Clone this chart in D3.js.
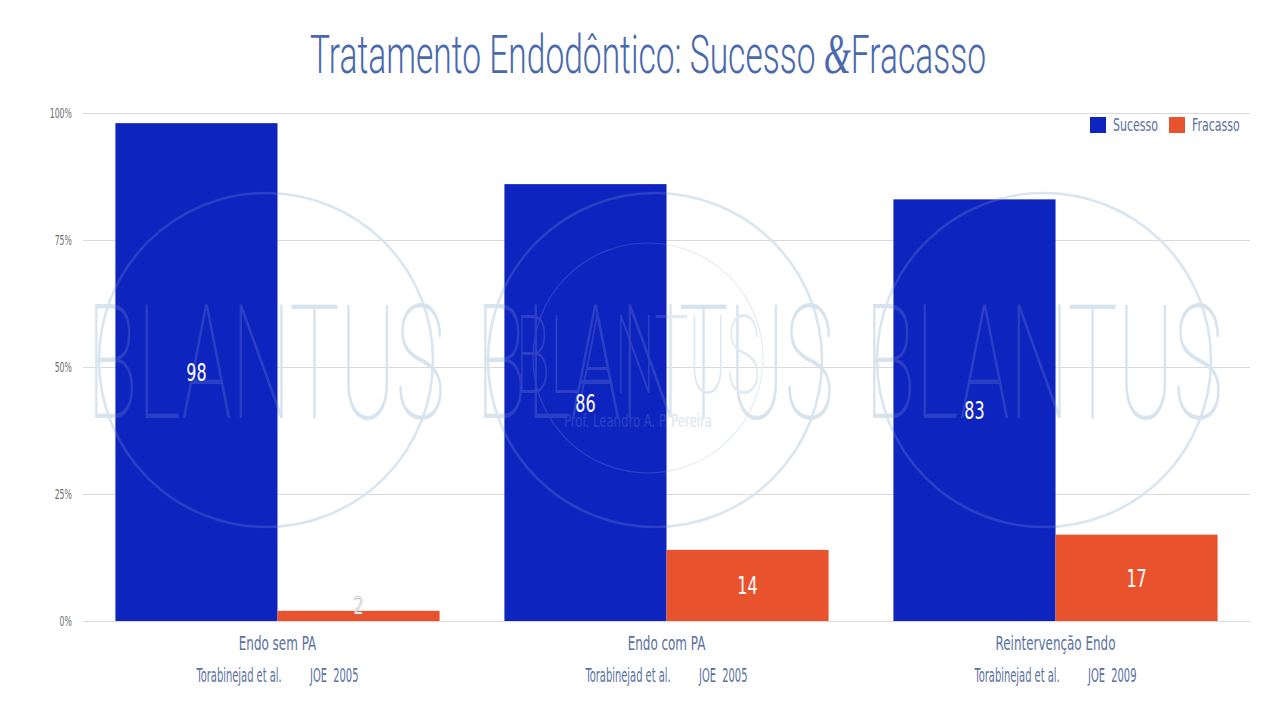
<!DOCTYPE html>
<html>
<head>
<meta charset="utf-8">
<script src="https://cdn.jsdelivr.net/npm/d3@7"></script>
<style>
  html, body { margin: 0; padding: 0; background: #fff; }
  svg { display: block; }
  text { font-family: "DejaVu Sans Condensed", "DejaVu Sans", sans-serif; font-stretch: condensed; }
</style>
</head>
<body>
<svg id="chart" width="1280" height="720"></svg>
<script>
const categories = ["Endo sem PA", "Endo com PA", "Reintervenção Endo"]
const references = ["Torabinejad et al.         JOE  2005", "Torabinejad et al.         JOE  2005", "Torabinejad et al.         JOE  2009"]
const seriesNames = ["Sucesso", "Fracasso"]
const sucesso = [98, 86, 83]
const fracasso = [2, 14, 17]
const yTicks = [0, 25, 50, 75, 100]

const colors = d3.scaleOrdinal().domain(seriesNames).range(["#0e24bf", "#e8532e"])

const svg = d3.select("#chart")
const margin = { top: 113, right: 30, bottom: 99, left: 83 }
const width = 1280 - margin.left - margin.right
const height = 720 - margin.top - margin.bottom

// squeeze text horizontally, the original uses a very narrow face
const condense = (sel, k) => sel.each(function () {
  const w = this.getComputedTextLength()
  d3.select(this).attr("textLength", w * k).attr("lengthAdjust", "spacingAndGlyphs")
})

const x0 = d3.scaleBand()
  .domain(categories)
  .range([margin.left, margin.left + width])
  .paddingInner(0.1667)
  .paddingOuter(0.0833)
const x1 = d3.scaleBand().domain(seriesNames).range([0, x0.bandwidth()])
const y = d3.scaleLinear().domain([0, 100]).range([margin.top + height, margin.top])

const rows = categories.map((c, i) => ({
  category: c,
  ref: references[i],
  values: [
    { key: "Sucesso", value: sucesso[i] },
    { key: "Fracasso", value: fracasso[i] },
  ],
}))

// title
svg.append("text")
  .attr("x", 648)
  .attr("y", 73)
  .attr("text-anchor", "middle")
  .attr("fill", "#4a69ad")
  .attr("font-size", 54)
  .style("font-family", "Roboto, sans-serif")
  .style("font-weight", 300)
  .style("font-stretch", "normal")
  .attr("textLength", 676)
  .attr("lengthAdjust", "spacingAndGlyphs")
  .call((t) => {
    t.append("tspan").text("Tratamento Endodôntico: Sucesso ")
    t.append("tspan")
      .style("font-family", "'Liberation Serif', serif")
      .style("font-style", "italic")
      .attr("font-size", 56)
      .text("&")
    t.append("tspan").text("Fracasso")
  })

// grid + y axis
const yAxis = d3.axisLeft(y)
  .tickValues(yTicks)
  .tickSize(-width)
  .tickPadding(11)
  .tickFormat((d) => d + "%")

svg.append("g")
  .attr("transform", `translate(${margin.left},0)`)
  .call(yAxis)
  .call((g) => g.select(".domain").remove())
  .call((g) => g.selectAll(".tick line").attr("stroke", "#d9d9d9"))
  .call((g) => g.selectAll(".tick text")
    .attr("fill", "#6f6f6f")
    .attr("font-size", 14)
    .style("font-family", "'DejaVu Sans Condensed', sans-serif")
    .call(condense, 0.62))

// watermark, drawn under the bars and faintly again on top
const wmCenters = [266, 655, 1044]
const drawWatermark = (g) => {
  g.selectAll("circle.big")
    .data(wmCenters)
    .join("circle")
    .attr("class", "big")
    .attr("cx", (d) => d)
    .attr("cy", 360)
    .attr("r", 167)
    .attr("fill", "none")
    .attr("stroke", "#d9e6ef")
    .attr("stroke-width", 2.5)
  g.append("circle")
    .attr("cx", 648)
    .attr("cy", 358)
    .attr("r", 115)
    .attr("fill", "none")
    .attr("stroke", "#e6eef4")
    .attr("stroke-width", 1.2)
  g.selectAll("text.word")
    .data(wmCenters)
    .join("text")
    .attr("class", "word")
    .attr("x", (d) => d)
    .attr("y", 418)
    .attr("text-anchor", "middle")
    .attr("font-size", 160)
    .attr("textLength", 358)
    .attr("lengthAdjust", "spacingAndGlyphs")
    .style("font-family", "Roboto, sans-serif")
    .style("font-weight", 100)
    .style("font-stretch", "normal")
    .attr("fill", "#d7e4ee")
    .text("BLANTUS")
  g.append("text")
    .attr("x", 638)
    .attr("y", 393)
    .attr("text-anchor", "middle")
    .attr("font-size", 110)
    .attr("textLength", 245)
    .attr("lengthAdjust", "spacingAndGlyphs")
    .style("font-family", "Roboto, sans-serif")
    .style("font-weight", 100)
    .style("font-stretch", "normal")
    .attr("fill", "#e0eaf2")
    .text("BLANTUS")
  g.append("text")
    .attr("x", 638)
    .attr("y", 427)
    .attr("text-anchor", "middle")
    .attr("font-size", 18)
    .attr("textLength", 148)
    .attr("lengthAdjust", "spacingAndGlyphs")
    .attr("fill", "#dce7f0")
    .text("Prof. Leandro A. P. Pereira")
}
svg.append("g").attr("pointer-events", "none").call(drawWatermark)

// bars
const groups = svg.append("g")
  .selectAll("g")
  .data(rows)
  .join("g")
  .attr("transform", (d) => `translate(${x0(d.category)},0)`)

groups.selectAll("rect")
  .data((d) => d.values)
  .join("rect")
  .attr("x", (d) => x1(d.key))
  .attr("y", (d) => y(d.value))
  .attr("width", x1.bandwidth())
  .attr("height", (d) => y(0) - y(d.value))
  .attr("fill", (d) => colors(d.key))

svg.append("g").attr("pointer-events", "none").attr("opacity", 0.14).call(drawWatermark)

groups.selectAll("text.value")
  .data((d) => d.values)
  .join("text")
  .attr("class", "value")
  .attr("x", (d) => x1(d.key) + x1.bandwidth() / 2)
  .attr("y", (d) => d.value < 5 ? y(d.value) + 3 : (y(d.value) + y(0)) / 2 + 9)
  .attr("text-anchor", "middle")
  .attr("font-size", 24)
  .attr("fill", "#fff")
  .attr("stroke", (d) => d.value < 5 ? "#9a9a9a" : "none")
  .attr("stroke-width", 0.6)
  .text((d) => d.value)
  .call(condense, 0.74)

// category labels, squeezed with a horizontal scale around their centre
const labels = svg.append("g")
  .selectAll("g")
  .data(rows)
  .join("g")
  .attr("transform", (d) => `translate(${x0(d.category) + x0.bandwidth() / 2},0)`)
labels.append("text")
  .attr("y", 650)
  .attr("text-anchor", "middle")
  .attr("font-size", 19)
  .attr("fill", "#5a71a3")
  .attr("transform", "scale(0.7,1)")
  .text((d) => d.category)
labels.append("text")
  .attr("y", 682)
  .attr("text-anchor", "middle")
  .attr("font-size", 19)
  .attr("fill", "#5a71a3")
  .attr("transform", "scale(0.58,1)")
  .attr("xml:space", "preserve")
  .style("white-space", "pre")
  .text((d) => d.ref)

// legend
const legend = svg.append("g")
const legendX = [1090, 1169]
legend.selectAll("rect")
  .data(seriesNames)
  .join("rect")
  .attr("x", (d, i) => legendX[i])
  .attr("y", 117)
  .attr("width", 16)
  .attr("height", 16)
  .attr("fill", (d) => colors(d))
legend.selectAll("text")
  .data(seriesNames)
  .join("text")
  .attr("x", (d, i) => legendX[i] + 23)
  .attr("y", 131)
  .attr("font-size", 17)
  .attr("fill", "#5a6fa5")
  .text((d) => d)
  .call(condense, 0.72)
</script>
</body>
</html>
